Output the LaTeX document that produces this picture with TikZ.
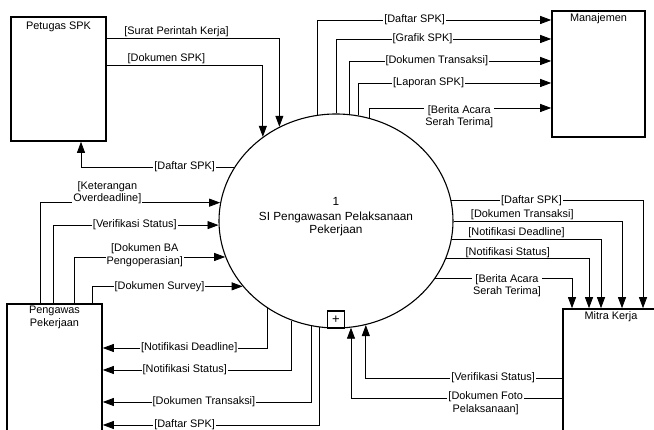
\documentclass[tikz,border=0pt]{standalone}
\usepackage{fontspec}
\setmainfont{Liberation Sans}
\usetikzlibrary{arrows.meta, shapes.geometric}

\begin{document}
\begin{tikzpicture}[
  x=1pt, y=-1pt,
  entity/.style={rectangle, draw=black, line width=1.6pt, fill=white, inner sep=0pt},
  entlbl/.style={anchor=north, inner sep=0pt, yshift=-3pt, align=center, font=\fontsize{10.9}{12.5}\selectfont},
  process/.style={ellipse, draw=black, line width=1.1pt, fill=white, minimum width=234pt, minimum height=214pt, inner sep=0pt},
  flow/.style={-{Triangle[length=11pt, width=8pt]}, line width=0.8pt},
  lbl/.style={fill=white, inner sep=1pt, align=center, font=\fontsize{10.9}{12.5}\selectfont}
]
  \useasboundingbox (0,0) rectangle (654,430);
  \clip (0,0) rectangle (654,430);
  \fill[white] (0,0) rectangle (654,430);

  % External entities
  \node[entity, minimum width=95pt, minimum height=124pt, label={[entlbl, yshift=-2pt]north:Petugas SPK}] (petugas) at (58.5,79) {};
  \node[entity, minimum width=93pt, minimum height=126pt, label={[entlbl]north:Manajemen}] (manajemen) at (598.5,74) {};
  \node[entity, minimum width=95pt, minimum height=150pt, label={[entlbl]north:Pengawas\\Pekerjaan}] (pengawas) at (54.5,379) {};
  \node[entity, minimum width=96pt, minimum height=150pt, label={[entlbl]north:Mitra Kerja}] (mitra) at (611,384) {};

  % Process
  \node[process] (proc) at (336,221) {};
  \node[align=center, font=\fontsize{11.8}{13}\selectfont] (proctitle) at (336,217) {1\\[2pt]SI Pengawasan Pelaksanaan\\Pekerjaan};

  % Petugas SPK
  \draw[flow] (petugas.east |- 0,38) -| (proc.121.4) node[lbl, pos=.202, anchor=south] {[Surat Perintah Kerja]};
  \draw[flow] (petugas.east |- 0,65) -| (proc.131.8) node[lbl, pos=.191, anchor=south] {[Dokumen SPK]};
  \draw[flow] (proc.152.4) -| (petugas.south -| 81,0) node[lbl, pos=.162] {[Daftar SPK]};

  % Manajemen
  \draw[flow] (proc.100.2) |- (manajemen.west |- 0,20) node[lbl, pos=.708] {[Daftar SPK]};
  \draw[flow] (proc.90) |- (manajemen.west |- 0,39) node[lbl, pos=.701] {[Grafik SPK]};
  \draw[flow] (proc.83.6) |- (manajemen.west |- 0,61) node[lbl, pos=.717] {[Dokumen Transaksi]};
  \draw[flow] (proc.78.7) |- (manajemen.west |- 0,83) node[lbl, pos=.682] {[Laporan SPK]};
  \draw[flow] (proc.72.7) |- (manajemen.west |- 0,108) node[lbl, pos=.747, anchor=north, yshift=4pt] {[Berita Acara\\Serah Terima]};

  % Pengawas Pekerjaan
  \draw[flow] (pengawas.north -| 40,0) |- (proc.171.6) node[lbl, pos=.687, anchor=south, yshift=-3pt] {[Keterangan\\Overdeadline]};
  \draw[flow] (pengawas.north -| 53,0) |- (proc.182) node[lbl, pos=.747] {[Verifikasi Status]};
  \draw[flow] (pengawas.north -| 74,0) |- (proc.198.6) node[lbl, pos=.734, anchor=south, yshift=-11pt] {[Dokumen BA\\Pengoperasian]};
  \draw[flow] (pengawas.north -| 92,0) |- (proc.215.6) node[lbl, pos=.724] {[Dokumen Survey]};
  \draw[flow] (proc.232) |- (pengawas.east |- 0,348) node[lbl, pos=.738] {[Notifikasi Deadline]};
  \draw[flow] (proc.246.1) |- (pengawas.east |- 0,370) node[lbl, pos=.783] {[Notifikasi Status]};
  \draw[flow] (proc.257.1) |- (pengawas.east |- 0,402) node[lbl, pos=.758] {[Dokumen Transaksi]};
  \draw[flow] (proc.261.4) |- (pengawas.east |- 0,425) node[lbl, pos=.811] {[Daftar SPK]};

  % Mitra Kerja
  \draw[flow] (proc.10.9) -| (mitra.north -| 643,0) node[lbl, pos=.209] {[Daftar SPK]};
  \draw[flow] (proc.0.5) -| (mitra.north -| 622,0) node[lbl, pos=.204, anchor=south] {[Dokumen Transaksi]};
  \draw[flow] (proc.351.1) -| (mitra.north -| 601,0) node[lbl, pos=.217, anchor=south] {[Notifikasi Deadline]};
  \draw[flow] (proc.341.4) -| (mitra.north -| 589,0) node[lbl, pos=.216, anchor=south] {[Notifikasi Status]};
  \draw[flow] (proc.330.7) -| (mitra.north -| 572,0) node[lbl, pos=.262, anchor=north, yshift=5.5pt] {[Berita Acara\\Serah Terima]};
  \draw[flow] (mitra.west |- 0,378) -| (proc.286.7) node[lbl, pos=.176] {[Verifikasi Status]};
  \draw[flow] (mitra.west |- 0,398) -| (proc.278.6) node[lbl, pos=.181, anchor=north, yshift=7.5pt] {[Dokumen Foto\\Pelaksanaan]};

  % Decomposition marker
  \node[rectangle, draw=black, line width=1.1pt, fill=white, minimum size=17pt, inner sep=0pt, font=\fontsize{13}{13}\selectfont] (decomp) at (336,319.5) {+};
\end{tikzpicture}
\end{document}
